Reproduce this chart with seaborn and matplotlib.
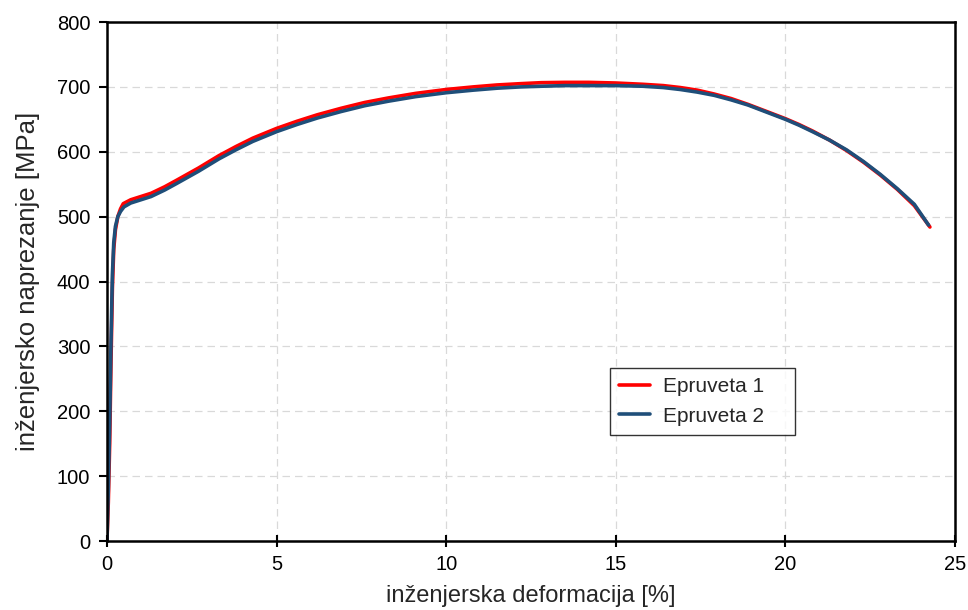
import numpy as np
import pandas as pd
import matplotlib
matplotlib.use("Agg")
import matplotlib.pyplot as plt
import seaborn as sns

series_names = ["Epruveta 1", "Epruveta 2"]

strain_1 = [0, 0.04, 0.08, 0.12, 0.16, 0.20, 0.25, 0.32, 0.40, 0.48, 0.7, 1.0, 1.3, 1.7, 2.05, 2.7,
            3.3, 3.8, 4.3, 5.0, 5.6, 6.2, 6.9, 7.6, 8.3, 9.1, 10.0, 10.8, 11.5, 12.2, 12.8, 13.5,
            14.2, 15.0, 15.8, 16.4, 16.9, 17.4, 17.9, 18.4, 18.9, 19.4, 20.0, 20.4, 20.8, 21.3,
            21.8, 22.3, 22.8, 23.3, 23.8, 24.26]
stress_1 = [0, 60, 150, 280, 390, 450, 480, 500, 512, 520, 526, 531, 536, 546, 556, 575,
            594, 608, 621, 636, 647, 657, 667, 676, 683, 690, 696, 700, 703, 705, 706.5, 707,
            707, 706, 704, 702, 699, 695, 689, 682, 673, 663, 651, 642, 632, 618,
            602, 584, 564, 542, 517, 484]

strain_2 = [0, 0.04, 0.08, 0.12, 0.16, 0.20, 0.25, 0.32, 0.40, 0.50, 0.7, 1.0, 1.3, 1.7, 2.05, 2.7,
            3.3, 3.8, 4.3, 5.0, 5.6, 6.2, 6.9, 7.6, 8.3, 9.1, 10.0, 10.8, 11.5, 12.2, 12.8, 13.5,
            14.2, 15.0, 15.8, 16.4, 16.9, 17.4, 17.9, 18.4, 18.9, 19.4, 20.0, 20.4, 20.8, 21.3,
            21.8, 22.3, 22.8, 23.3, 23.8, 24.22]
stress_2 = [0, 80, 180, 310, 410, 460, 485, 500, 508, 515, 521, 526, 531, 541, 551, 570,
            589, 603, 616, 631, 642, 652, 662, 671, 678, 685, 691, 695, 698, 700, 701, 702,
            702, 702, 701, 699, 696, 692, 687, 680, 672, 662, 650, 641, 631, 618,
            603, 585, 565, 543, 519, 487]

x_ticks = [0, 5, 10, 15, 20, 25]
y_ticks = [0, 100, 200, 300, 400, 500, 600, 700, 800]

df = pd.concat([
    pd.DataFrame({"strain": strain_1, "stress": stress_1, "series": series_names[0]}),
    pd.DataFrame({"strain": strain_2, "stress": stress_2, "series": series_names[1]}),
], ignore_index=True)

sns.set_style("white")
plt.rcParams["font.family"] = ["Liberation Sans", "DejaVu Sans"]

fig = plt.figure(figsize=(9.68, 6.10), dpi=100)
ax = fig.add_axes([0.1105, 0.1131, 0.8761, 0.8508])

sns.lineplot(data=df, x="strain", y="stress", hue="series", sort=False,
             palette={series_names[0]: "#ff0000", series_names[1]: "#1f4e79"},
             linewidth=2.6, ax=ax, estimator=None)

ax.set_xlim(0, 25)
ax.set_ylim(0, 800)
ax.set_xticks(x_ticks)
ax.set_yticks(y_ticks)
ax.grid(True, color="#d9d9d9", linestyle=(0, (6, 4)), linewidth=0.9)
ax.set_axisbelow(True)
for s in ax.spines.values():
    s.set_color("black")
    s.set_linewidth(1.8)
ax.tick_params(axis="x", direction="inout", length=8, width=1.5, labelsize=14.5, colors="black", pad=6)
ax.tick_params(axis="y", direction="out", length=6, width=1.5, labelsize=14.5, colors="black", pad=6)
ax.tick_params(left=True, bottom=True)
ax.set_xlabel("inženjerska deformacija [%]", fontsize=17, labelpad=8)
ax.set_ylabel("inženjersko naprezanje [MPa]", fontsize=18.5, labelpad=12)

leg = ax.legend(loc="lower left", bbox_to_anchor=(0.593, 0.204, 0.218, 0.125), mode="expand",
                borderaxespad=0, frameon=True, fancybox=False, fontsize=15, handlelength=1.5,
                handletextpad=0.6, borderpad=0.45, labelspacing=0.5)
leg.get_frame().set_edgecolor("black")
leg.get_frame().set_linewidth(1.0)
leg.set_title(None)

fig.savefig("out.png", dpi=100)
